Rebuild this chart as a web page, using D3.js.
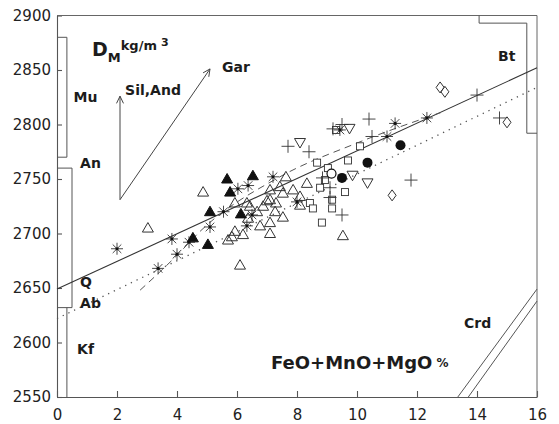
<!DOCTYPE html>
<html><head><meta charset="utf-8">
<script src="https://cdn.jsdelivr.net/npm/d3@7/dist/d3.min.js"></script>
<style>body{margin:0;background:#fff}svg{display:block}</style>
</head><body><div id="chart"></div>
<script>
// ---- data ----
const xTicks = [0, 2, 4, 6, 8, 10, 12, 14, 16];
const yTicks = [2550, 2600, 2650, 2700, 2750, 2800, 2850, 2900];

const asterisks = [[2.0,2686],[3.37,2668],[3.83,2695],[4.0,2681],[4.4,2692],[5.1,2706],[5.55,2720],
  [6.03,2741],[6.37,2744],[6.33,2707],[6.5,2717],[7.2,2752],[8.0,2729],[9.43,2795],[11.0,2789],[11.27,2801],[12.33,2806]];
const filledTriangles = [[5.67,2750],[6.53,2753],[5.77,2738],[5.1,2720],[6.13,2718],[4.53,2696],[5.03,2690]];
const openTriangles = [[3.03,2705],[4.87,2738],[5.7,2694],[5.83,2697],[5.93,2702],[6.2,2699],[5.93,2728],[6.33,2728],
  [6.37,2714],[6.67,2720],[6.77,2707],[6.87,2725],[7.0,2730],[7.1,2740],[7.1,2731],[7.1,2710],[7.1,2700],[7.43,2743],
  [7.53,2737],[7.53,2715],[7.27,2720],[7.63,2752],[7.87,2740],[8.1,2734],[8.1,2726],[8.33,2746],[6.43,2725],[6.1,2671],
  [9.53,2698],[7.3,2728]];
const invTriangles = [[8.1,2783],[9.75,2796],[9.85,2753],[10.35,2746]];
const squares = [[9.3,2795],[10.1,2780],[9.7,2767],[8.67,2765],[9.03,2760],[8.93,2749],[8.77,2742],[9.6,2738],
  [8.43,2728],[8.53,2723],[9.17,2731],[9.17,2723],[8.83,2710]];
const pluses = [[7.7,2780],[8.4,2775],[8.85,2751],[9.1,2742],[9.1,2733],[9.5,2717],[9.5,2800],[9.2,2796],
  [10.4,2805],[10.5,2789],[11.8,2749],[14.0,2827],[14.75,2806]];
const filledCircles = [[9.5,2751],[10.35,2765],[11.45,2781]];
const openCircles = [[9.15,2755]];
const diamonds = [[12.77,2834],[12.93,2830],[15.0,2802],[11.17,2735]];

// regression / trend lines
const solidLine = [[0,2649],[16,2852]];
const dottedLine = [[0,2622],[16,2834]];
const dashedLine = [[2.77,2648],[4.0,2680],[4.77,2702],[7.43,2752],[10.0,2783],[12.8,2811]];

// mineral reference boxes
const muBox = [[0,2880],[0.33,2880],[0.33,2770],[0,2770]];
const anBox = [[0,2760],[0.5,2760],[0.5,2632],[0,2632]];
const kfBox = [[0.33,2632],[0.33,2550]];
const btBox = [[14.07,2900],[14.07,2893],[15.66,2893],[15.66,2792],[16,2792]];
const crdLines = [[[13.36,2550],[16,2649]],[[13.71,2550],[16,2638]]];
const arrowStart = [2.1,2731];
const arrowEnds = [[2.1,2826],[5.1,2851]];

const mineralLabels = [
  {t:"Mu", x:0.55, y:2821}, {t:"An", x:0.77, y:2760}, {t:"Q", x:0.77, y:2651},
  {t:"Ab", x:0.77, y:2632}, {t:"Kf", x:0.67, y:2589}, {t:"Sil,And", x:2.27, y:2827},
  {t:"Gar", x:5.5, y:2848}, {t:"Bt", x:14.7, y:2858}, {t:"Crd", x:13.57, y:2613}
];

// ---- drawing ----
const W = 559, H = 424;
const svg = d3.select("#chart").append("svg").attr("width", W).attr("height", H);
const x = d3.scaleLinear().domain([0,16]).range([57,537]);
const y = d3.scaleLinear().domain([2550,2900]).range([397,15.5]);
const ink = "#2a2a2a", font = "DejaVu Sans, Arial, sans-serif";

// axes
const ax = svg.append("g").attr("transform","translate(0,397)")
  .call(d3.axisBottom(x).tickValues(xTicks).tickSize(-6).tickSizeOuter(0).tickPadding(12).tickFormat(d3.format("d")));
const ay = svg.append("g").attr("transform","translate(57,0)")
  .call(d3.axisLeft(y).tickValues(yTicks).tickSize(-5).tickSizeOuter(0).tickPadding(6).tickFormat(d3.format("d")));
[ax,ay].forEach(g=>{
  g.selectAll("path,line").attr("stroke","#555").attr("stroke-width",1.1);
  g.selectAll("text").attr("fill","#222").style("font-family",font).style("font-size","15px");
});
// frame top/right
svg.append("line").attr("x1",x(0)).attr("x2",x(16)).attr("y1",y(2900)).attr("y2",y(2900)).attr("stroke","#666");
svg.append("line").attr("x1",x(16)).attr("x2",x(16)).attr("y1",y(2900)).attr("y2",y(2550)).attr("stroke","#666");

const line = d3.line().x(d=>x(d[0])).y(d=>y(d[1]));
const thin = g => g.attr("fill","none").attr("stroke","#555").attr("stroke-width",1);
svg.append("path").datum(muBox).attr("d",line).call(thin);
svg.append("path").datum(anBox).attr("d",line).call(thin);
svg.append("path").datum(kfBox).attr("d",line).call(thin);
svg.append("path").datum(btBox).attr("d",line).call(thin);
crdLines.forEach(l=>svg.append("path").datum(l).attr("d",line).call(thin));

// arrows
arrowEnds.forEach(e=>{
  const x0=x(arrowStart[0]), y0=y(arrowStart[1]), x1=x(e[0]), y1=y(e[1]);
  svg.append("line").attr("x1",x0).attr("y1",y0).attr("x2",x1).attr("y2",y1).attr("stroke","#444").attr("stroke-width",1);
  const a=Math.atan2(y1-y0,x1-x0), L=8, s=0.45;
  [a+Math.PI-s, a+Math.PI+s].forEach(b=>{
    svg.append("line").attr("x1",x1).attr("y1",y1).attr("x2",x1+L*Math.cos(b)).attr("y2",y1+L*Math.sin(b))
      .attr("stroke","#444").attr("stroke-width",1);
  });
});

// trend lines
svg.append("path").datum(solidLine).attr("d",line).attr("fill","none").attr("stroke","#333").attr("stroke-width",1.1);
svg.append("path").datum(dottedLine).attr("d",line).attr("fill","none").attr("stroke","#555").attr("stroke-width",1.3).attr("stroke-dasharray","1.3,5");
svg.append("path").datum(dashedLine).attr("d",d3.line().curve(d3.curveMonotoneX).x(d=>x(d[0])).y(d=>y(d[1])))
  .attr("fill","none").attr("stroke","#555").attr("stroke-width",1).attr("stroke-dasharray","7,5");

// markers
const mk = svg.append("g");
function pts(data, drawFn){ data.forEach(d=>drawFn(mk.append("g").attr("transform",`translate(${x(d[0])},${y(d[1])})`))); }
const st = "#333";
pts(openTriangles, g=>g.append("path").attr("d","M0,-5.5L5.5,4L-5.5,4Z").attr("fill","none").attr("stroke",st).attr("stroke-width",1));
pts(invTriangles, g=>g.append("path").attr("d","M0,5L5.5,-4.5L-5.5,-4.5Z").attr("fill","none").attr("stroke",st).attr("stroke-width",1));
pts(squares, g=>g.append("rect").attr("x",-3.5).attr("y",-3.5).attr("width",7).attr("height",7).attr("fill","#fff").attr("stroke",st).attr("stroke-width",0.9));
pts(diamonds, g=>g.append("path").attr("d","M0,-5.5L4,0L0,5.5L-4,0Z").attr("fill","none").attr("stroke",st).attr("stroke-width",1));
pts(pluses, g=>g.append("path").attr("d","M-6.5,0H6.5M0,-6.5V6.5").attr("stroke",st).attr("stroke-width",0.9));
pts(asterisks, g=>{
  g.append("path").attr("d","M-6,0H6M0,-6V6M-4.3,-4.3L4.3,4.3M-4.3,4.3L4.3,-4.3").attr("stroke",st).attr("stroke-width",0.9);
  g.append("circle").attr("r",1.6).attr("fill","#111");
});
pts(filledTriangles, g=>g.append("path").attr("d","M0,-5.5L5.5,4L-5.5,4Z").attr("fill","#111").attr("stroke","#111"));
pts(openCircles, g=>g.append("circle").attr("r",4.5).attr("fill","#fff").attr("stroke","#111").attr("stroke-width",1.2));
pts(filledCircles, g=>g.append("circle").attr("r",5).attr("fill","#111"));

// labels
const lab = svg.append("g").style("font-family",font).style("font-weight","bold").attr("fill","#1c1c1c");
mineralLabels.forEach(l=>lab.append("text").attr("x",x(l.x)).attr("y",y(l.y)).style("font-size","14px").text(l.t));

// D_M kg/m^3
const dm = lab.append("text").attr("x",92).attr("y",56);
dm.append("tspan").style("font-size","19px").text("D");
dm.append("tspan").attr("dy",6).style("font-size","13px").text("M");
dm.append("tspan").attr("dy",-12).attr("dx",0).style("font-size","13px").text("kg/m");
dm.append("tspan").attr("dy",-4).attr("dx",4).style("font-size","11px").text("3");

const xl = lab.append("text").attr("x",271).attr("y",369);
xl.append("tspan").style("font-size","18px").text("FeO+MnO+MgO");
xl.append("tspan").attr("dx",4).attr("dy",-2).style("font-size","12px").text("%");
</script></body></html>
